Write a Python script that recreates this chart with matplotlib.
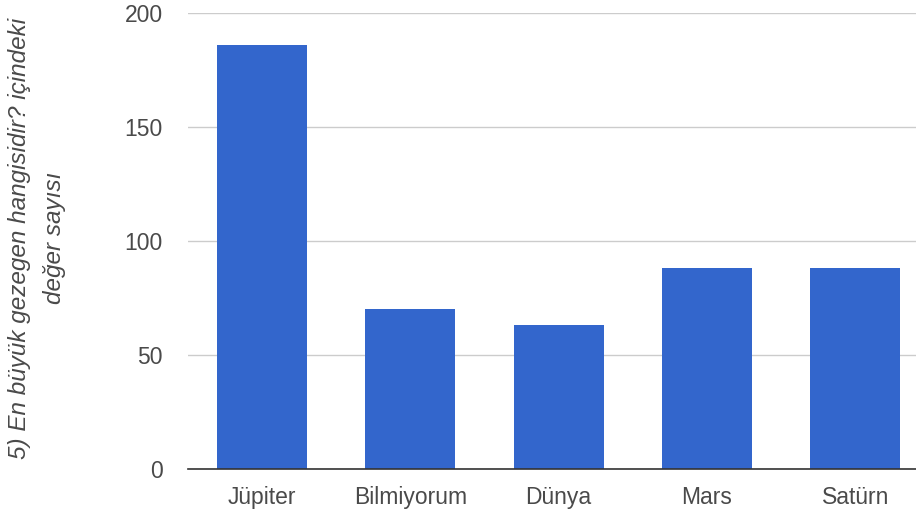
import matplotlib.pyplot as plt

plt.rcParams['font.family'] = ['Liberation Sans', 'DejaVu Sans']

categories = ["Jüpiter", "Bilmiyorum", "Dünya", "Mars", "Satürn"]
counts = [186, 70, 63, 88, 88]

fig = plt.figure(figsize=(9.16, 5.13), dpi=100)
ax = fig.add_axes([188 / 916, 44 / 513, 728 / 916, 456 / 513])

ax.bar(range(len(categories)), counts, width=0.608, color='#3366CC', zorder=2)

ax.set_ylim(0, 200)
ax.set_xlim(-0.5, 4.41)
ax.set_yticks([0, 50, 100, 150, 200])
ax.set_xticks(range(len(categories)))
ax.set_xticklabels(categories)
ax.grid(axis='y', color='#cccccc', linewidth=1, zorder=0)
ax.tick_params(axis='both', length=0, labelsize=16.5, colors='#4a4a4a')
ax.tick_params(axis='y', pad=18)
ax.tick_params(axis='x', pad=12)

for side in ['top', 'right', 'left']:
    ax.spines[side].set_visible(False)
ax.spines['bottom'].set_color('#333333')
ax.spines['bottom'].set_linewidth(1.2)
ax.spines['bottom'].set_zorder(3)

fig.text(37 / 916, 1 - 238 / 513,
         "5) En büyük gezegen hangisidir? içindeki\ndeğer sayısı",
         rotation=90, ha='center', va='center', fontsize=17.5,
         style='italic', color='#4a4a4a', multialignment='center',
         linespacing=1.65)

fig.savefig("out.png", dpi=100)
